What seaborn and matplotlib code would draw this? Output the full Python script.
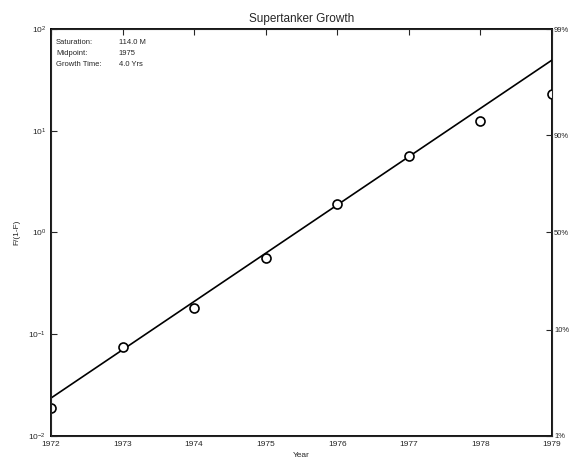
import matplotlib
matplotlib.use("Agg")
import matplotlib.pyplot as plt
import seaborn as sns
import numpy as np
import pandas as pd

years = [1972, 1973, 1974, 1975, 1976, 1977, 1978, 1979]
ratio = [0.0188, 0.075, 0.181, 0.561, 1.905, 5.65, 12.5, 22.96]
fit_years = [1972, 1979]
fit_ratio = [0.0236, 49.5]
year_labels = ["1972", "1973", "1974", "1975", "1976", "1977", "1978", "1979"]
pct_labels = ["99%", "90%", "50%", "10%", "1%"]
pct_values = [0.99, 0.90, 0.50, 0.10, 0.01]
info_labels = ["Saturation:", "Midpoint:", "Growth Time:"]
info_values = ["114.0 M", "1975", "4.0 Yrs"]

sns.set_style("white")
plt.rcParams["font.family"] = ["Liberation Sans", "DejaVu Sans"]

fig = plt.figure(figsize=(5.71, 4.65), dpi=100)
ax = fig.add_axes([51/571, 1-436/465, (552-51)/571, (436-29)/465])

pts = pd.DataFrame({"year": years, "ratio": ratio})
fit = pd.DataFrame({"year": fit_years, "ratio": fit_ratio})
sns.lineplot(data=fit, x="year", y="ratio", ax=ax, color="black", linewidth=1.2)
sns.scatterplot(data=pts, x="year", y="ratio", ax=ax, marker="o", s=42,
                facecolor="white", edgecolor="black", linewidth=1.2, zorder=3)

ax.set_yscale("log")
ax.set_ylim(0.01, 100)
ax.set_xlim(1972, 1979)
ax.set_xticks(years)
ax.set_xticklabels(year_labels)
ax.minorticks_off()
ax.tick_params(axis="both", direction="in", length=4, labelsize=6, top=True)
ax.set_yticks([0.01, 0.1, 1, 10, 100])
for s in ax.spines.values():
    s.set_linewidth(1.3)
    s.set_color("black")
ax.set_xlabel("Year", fontsize=6, labelpad=3)
ax.set_ylabel("F/(1-F)", fontsize=6, labelpad=6)
ax.set_title("Supertanker Growth", fontsize=8.5, pad=5)

ax2 = ax.twinx()
ax2.set_yscale("log")
ax2.set_ylim(0.01, 100)
ax2.minorticks_off()
ax2.set_yticks([p/(1-p) for p in pct_values])
ax2.set_yticklabels(pct_labels)
ax2.tick_params(axis="y", direction="in", length=4, labelsize=5.5, pad=1.5)

for i, (lab, val) in enumerate(zip(info_labels, info_values)):
    y = 0.975 - i*0.027
    ax.text(0.01, y, lab, transform=ax.transAxes, fontsize=5.5, va="top")
    ax.text(0.135, y, val, transform=ax.transAxes, fontsize=5.5, va="top")

fig.savefig("out.png", dpi=100)
